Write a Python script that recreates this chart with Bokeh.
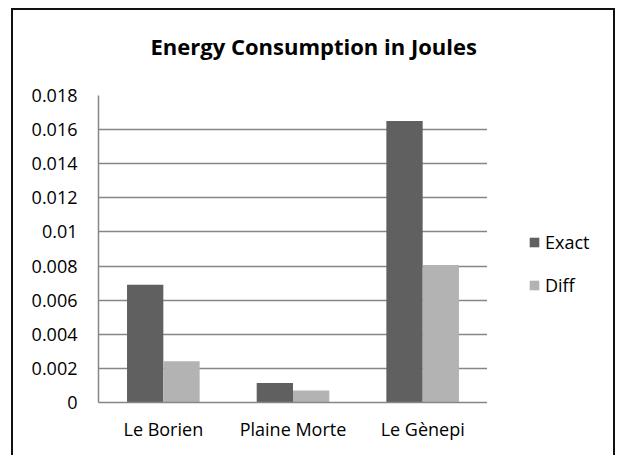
from bokeh.plotting import figure
from bokeh.models import (FactorRange, Range1d, Legend, LegendItem, FixedTicker,
                          ColumnDataSource, Title)
from bokeh.layouts import row
from bokeh.transform import dodge
from bokeh.embed import file_html
from bokeh.resources import INLINE

# ---- data ----
categories = ["Le Borien", "Plaine Morte", "Le Gènepi"]
series_names = ["Exact", "Diff"]
exact = [0.0069, 0.00115, 0.0165]
diff = [0.00242, 0.0007, 0.00806]
y_ticks = [0, 0.002, 0.004, 0.006, 0.008, 0.01, 0.012, 0.014, 0.016, 0.018]
y_tick_labels = ["0", "0.002", "0.004", "0.006", "0.008", "0.01", "0.012", "0.014", "0.016", "0.018"]
title_text = "Energy Consumption in Joules"

FONT = "Open Sans"
GRID = "#868686"
C_EXACT = "#606060"
C_DIFF = "#b3b3b3"
H = 445

src = ColumnDataSource(dict(cat=categories, exact=exact, diff=diff))

p = figure(
    x_range=FactorRange(factors=categories, range_padding=0),
    y_range=Range1d(0, 0.018),
    width=474, height=H,
    output_backend="svg", toolbar_location=None,
    min_border_left=85, min_border_right=0, min_border_top=85, min_border_bottom=53,
)

bw = 0.28
r1 = p.vbar(x=dodge("cat", -bw / 2, range=p.x_range), top="exact", width=bw,
            source=src, fill_color=C_EXACT, line_color=None)
r2 = p.vbar(x=dodge("cat", bw / 2, range=p.x_range), top="diff", width=bw,
            source=src, fill_color=C_DIFF, line_color=None)

p.outline_line_color = None
p.xgrid.grid_line_color = None
p.ygrid.grid_line_color = GRID
p.ygrid.grid_line_width = 1.5
p.yaxis.ticker = FixedTicker(ticks=y_ticks)
p.yaxis.major_label_overrides = {t: l for t, l in zip(y_ticks, y_tick_labels)}

for ax in (p.xaxis[0], p.yaxis[0]):
    ax.axis_line_color = GRID
    ax.axis_line_width = 1.5
    ax.major_tick_line_color = None
    ax.minor_tick_line_color = None
    ax.major_label_text_font = FONT
    ax.major_label_text_font_size = "18px"
    ax.major_label_text_color = "#000000"
p.yaxis.major_label_standoff = 15
p.xaxis.major_label_standoff = 8

# real title is the plot's own title (outermost); a blank spacer sits between it and the frame
p.title.text = title_text
p.title.text_font = FONT
p.title.text_font_size = "22px"
p.title.text_font_style = "bold"
p.title.text_color = "#000000"
p.title.align = "left"
p.title.offset = 52
p.title.standoff = 10
p.add_layout(Title(text=" ", text_font_size="1px", standoff=27), "above")

# legend in its own small figure to the right of the plot area
lp = figure(
    x_range=FactorRange(factors=categories), y_range=Range1d(1, 2),
    width=126, height=H, output_backend="svg", toolbar_location=None,
    x_axis_location=None, y_axis_location=None,
    min_border_left=0, min_border_right=0, min_border_top=0, min_border_bottom=0,
)
lp.outline_line_color = None
lp.xgrid.grid_line_color = None
lp.ygrid.grid_line_color = None
k1 = lp.vbar(x=dodge("cat", -bw / 2, range=lp.x_range), top="exact", width=bw,
             source=src, fill_color=C_EXACT, line_color=None, visible=False)
k2 = lp.vbar(x=dodge("cat", bw / 2, range=lp.x_range), top="diff", width=bw,
             source=src, fill_color=C_DIFF, line_color=None, visible=False)

legend = Legend(
    items=[LegendItem(label=series_names[0], renderers=[k1]),
           LegendItem(label=series_names[1], renderers=[k2])],
    location=(41, 105), glyph_width=12, glyph_height=12, label_standoff=5,
    label_height=25, spacing=18, padding=0, margin=0, border_line_color=None,
    background_fill_alpha=0, label_text_font=FONT, label_text_font_size="18px",
    label_text_color="#000000", inactive_fill_alpha=0,
)
lp.add_layout(legend, "center")

page = row(p, lp, styles={
    "margin-left": "11px",
    "margin-top": "8px",
    "border-top": "2px solid #111",
    "border-left": "2px solid #111",
    "border-right": "2px solid #111",
})

open("out.html", "w").write(file_html(page, INLINE))
